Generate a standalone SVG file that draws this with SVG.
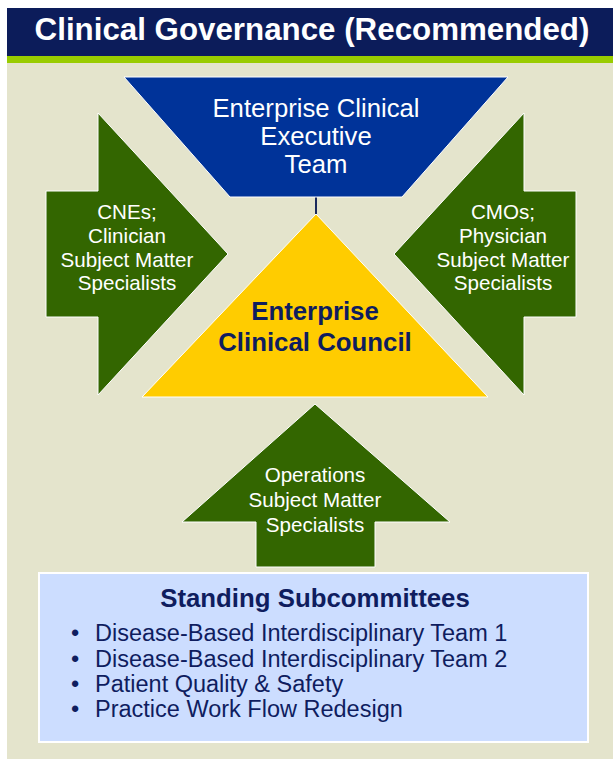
<svg xmlns="http://www.w3.org/2000/svg" width="613" height="759" viewBox="0 0 613 759">
<style>
.t{font-family:"Liberation Sans",Arial,sans-serif;text-anchor:middle}
.w{fill:#ffffff}
.n{fill:#0f1d5f}
.b{font-weight:bold}
.arrow{fill:#336600;stroke:#ffffff;stroke-width:1}
.li{font-family:"Liberation Sans",Arial,sans-serif;font-size:23.5px;fill:#0f1d5f}
</style>
<rect x="0" y="0" width="613" height="759" fill="#ffffff"/>
<rect x="7" y="8" width="606" height="48" fill="#0c1c5a"/>
<rect x="7" y="56" width="606" height="7" fill="#99cc00"/>
<rect x="7" y="63" width="606" height="696" fill="#e4e4cc"/>
<text class="t w b" x="312" y="40" font-size="31.3">Clinical Governance (Recommended)</text>

<g id="connectors">
<line x1="316" y1="197" x2="316" y2="214" stroke="#1a2a5c" stroke-width="2"/>
</g>

<g id="exec">
<polygon points="124,77 508,77 402,197 230,197" fill="#003399" stroke="#ffffff" stroke-width="1"/>
<text class="t w" font-size="25.7" x="316" y="117">Enterprise Clinical</text>
<text class="t w" font-size="25.7" x="316" y="145">Executive</text>
<text class="t w" font-size="25.7" x="316" y="173">Team</text>
</g>

<g id="council">
<polygon points="316,214 488,397 142,397" fill="#ffcc00" stroke="#ffffff" stroke-width="1"/>
<text class="t n b" font-size="25.8" x="315" y="320">Enterprise</text>
<text class="t n b" font-size="25.8" x="315" y="351">Clinical Council</text>
</g>

<g id="cnes">
<polygon class="arrow" points="46,191 98,191 98,113 228,254 98,395 98,317 46,317"/>
<text class="t w" font-size="20.6" x="127" y="219">CNEs;</text>
<text class="t w" font-size="20.6" x="127" y="243">Clinician</text>
<text class="t w" font-size="20.6" x="127" y="267">Subject Matter</text>
<text class="t w" font-size="20.6" x="127" y="290">Specialists</text>
</g>

<g id="cmos">
<polygon class="arrow" points="576,191 524,191 524,113 394,254 524,395 524,317 576,317"/>
<text class="t w" font-size="20.6" x="503" y="219">CMOs;</text>
<text class="t w" font-size="20.6" x="503" y="243">Physician</text>
<text class="t w" font-size="20.6" x="503" y="267">Subject Matter</text>
<text class="t w" font-size="20.6" x="503" y="290">Specialists</text>
</g>

<g id="operations">
<polygon class="arrow" points="315,404 450,522 375,522 375,567 256,567 256,522 182,522"/>
<text class="t w" font-size="20.6" x="315" y="482">Operations</text>
<text class="t w" font-size="20.6" x="315" y="507">Subject Matter</text>
<text class="t w" font-size="20.6" x="315" y="532">Specialists</text>
</g>

<g id="subcommittees">
<rect x="39" y="573" width="549" height="169" fill="#ccddff" stroke="#ffffff" stroke-width="2"/>
<text class="t n b" font-size="25.8" x="315" y="607">Standing Subcommittees</text>
<text class="li" x="71" y="641">•</text>
<text class="li" x="95" y="641">Disease-Based Interdisciplinary Team 1</text>
<text class="li" x="71" y="667">•</text>
<text class="li" x="95" y="667">Disease-Based Interdisciplinary Team 2</text>
<text class="li" x="71" y="692">•</text>
<text class="li" x="95" y="692">Patient Quality &amp; Safety</text>
<text class="li" x="71" y="717">•</text>
<text class="li" x="95" y="717">Practice Work Flow Redesign</text>
</g>
</svg>
